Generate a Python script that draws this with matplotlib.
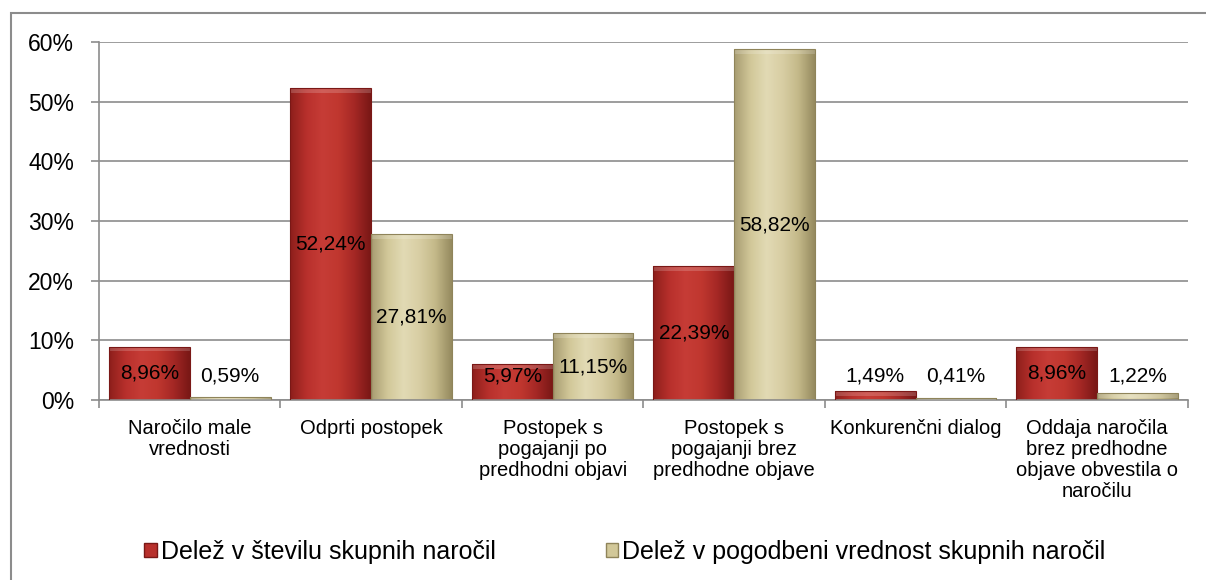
import matplotlib
matplotlib.use("Agg")
import matplotlib.pyplot as plt
import numpy as np
from matplotlib.patches import Rectangle
from matplotlib.colors import LinearSegmentedColormap

plt.rcParams['font.family'] = ['Liberation Sans', 'DejaVu Sans']

# Data
categories = ["Naročilo male\nvrednosti",
              "Odprti postopek",
              "Postopek s\npogajanji po\npredhodni objavi",
              "Postopek s\npogajanji brez\npredhodne objave",
              "Konkurenčni dialog",
              "Oddaja naročila\nbrez predhodne\nobjave obvestila o\nnaročilu"]
share_count = [8.96, 52.24, 5.97, 22.39, 1.49, 8.96]
share_value = [0.59, 27.81, 11.15, 58.82, 0.41, 1.22]
series_names = ["Delež v številu skupnih naročil",
                "Delež v pogodbeni vrednost skupnih naročil"]
yticks = [0, 10, 20, 30, 40, 50, 60]

red_cmap = LinearSegmentedColormap.from_list(
    "red", ["#8e1f1c", "#b8302c", "#c63c36", "#c0372f", "#a52825", "#7a1816"])
tan_cmap = LinearSegmentedColormap.from_list(
    "tan", ["#a89d72", "#d2c899", "#e2dab4", "#d8cea4", "#c4b989", "#968b60"])

fig = plt.figure(figsize=(12.06, 5.8), dpi=100)
ax = fig.add_axes([0.0821, 0.3103, 0.9029, 0.6173])

x = np.arange(len(categories))
w = 0.445
grad = np.linspace(0, 1, 64).reshape(1, -1)


def draw_bars(xs, vals, cmap, edge):
    bars = ax.bar(xs, vals, w, color="none", edgecolor=edge, linewidth=0.8, zorder=3)
    for b in bars:
        x0, y0 = b.get_x(), b.get_y()
        bw, bh = b.get_width(), b.get_height()
        im = ax.imshow(grad, cmap=cmap, aspect="auto", zorder=2.5,
                       extent=[x0, x0 + bw, y0, y0 + bh], interpolation="bicubic")
        im.set_clip_path(b)
        # lighter top bevel
        ax.add_patch(Rectangle((x0, y0 + bh - min(bh, 0.8)), bw, min(bh, 0.8),
                               facecolor="white", alpha=0.18, linewidth=0, zorder=2.6))
    return bars


draw_bars(x - w / 2, share_count, red_cmap, "#7a1816")
draw_bars(x + w / 2, share_value, tan_cmap, "#8f845a")

# value labels
for xs, vals in ((x - w / 2, share_count), (x + w / 2, share_value)):
    for xi, v in zip(xs, vals):
        ax.text(xi, max(v / 2, 4.0), ("%.2f%%" % v).replace(".", ","),
                ha="center", va="center", fontsize=15, color="black", zorder=5)

ax.set_xlim(-0.5, len(categories) - 0.5)
ax.set_ylim(0, 60)
ax.set_yticks(yticks)
ax.set_yticklabels(["%d%%" % t for t in yticks], fontsize=16.5)
ax.tick_params(axis="y", length=6, width=1.2, color="#8c8c8c", pad=12)
ax.set_xticks(x)
ax.set_xticklabels(categories, fontsize=14.5, linespacing=1.13)
ax.tick_params(axis="x", length=0, pad=14)
ax.set_xticks(np.arange(-0.5, len(categories)), minor=True)
ax.tick_params(axis="x", which="minor", length=6, width=1.2, color="#8c8c8c")

ax.grid(axis="y", color="#8c8c8c", linewidth=1.2, zorder=0)
ax.set_axisbelow(True)
for s in ("top", "right"):
    ax.spines[s].set_visible(False)
for s in ("left", "bottom"):
    ax.spines[s].set_color("#8c8c8c")
    ax.spines[s].set_linewidth(1.2)

# legend
handles = [Rectangle((0, 0), 1, 1, facecolor="#b8302c", edgecolor="#7a1816"),
           Rectangle((0, 0), 1, 1, facecolor="#d2c899", edgecolor="#8f845a")]
fig.legend(handles, series_names, loc="center", bbox_to_anchor=(0.518, 0.048),
           ncol=2, frameon=False, fontsize=18, handlelength=0.5, handleheight=0.5,
           handletextpad=0.15, columnspacing=4.4)

# outer chart border
fig.add_artist(Rectangle((11 / 1206, -0.05), 1.1, 1.05 - 13 / 580, transform=fig.transFigure,
                         fill=False, edgecolor="#8c8c8c", linewidth=1.5))

fig.savefig("out.png", dpi=100)
